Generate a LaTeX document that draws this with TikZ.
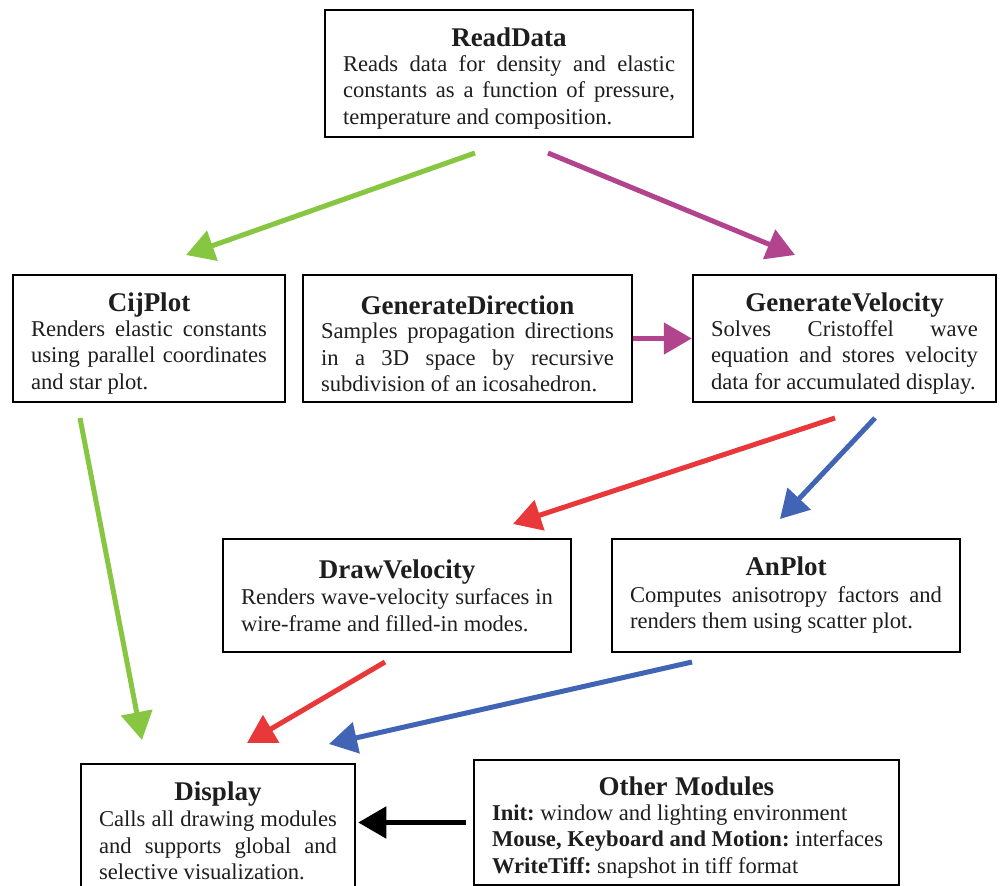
\documentclass[tikz,border=0pt]{standalone}
\usepackage{fontspec}
\setmainfont{Liberation Serif}
\usetikzlibrary{arrows.meta,calc}
\frenchspacing
\definecolor{agreen}{RGB}{134,198,64}
\definecolor{amag}{RGB}{178,68,142}
\definecolor{ared}{RGB}{232,56,58}
\definecolor{ablue}{RGB}{65,100,180}
\definecolor{txt}{RGB}{30,30,30}
\newcommand{\ttl}[1]{\makebox[\hsize]{\fontsize{27}{28}\selectfont\bfseries #1}}
\newcommand{\ttlb}[1]{\makebox[\hsize]{\rule{0pt}{29pt}\fontsize{27}{28}\selectfont\bfseries #1}}
\newcommand{\jln}[1]{\makebox[\hsize][s]{\spaceskip=0pt\xspaceskip=0pt\frenchspacing #1}}
\newcommand{\pln}[1]{\mbox{\spaceskip=0pt\xspaceskip=0pt\frenchspacing #1}}
\tikzset{
  modbox/.style={draw=black, line width=2.5pt, inner xsep=18pt, inner ysep=0pt,
    align=left, text=txt, font=\fontsize{22.6}{26.5}\selectfont},
  conn/.style={line width=5pt, -{Triangle[length=28pt,width=31pt]}},
}
\begin{document}
\begin{tikzpicture}[x=1pt,y=-1pt]
\useasboundingbox (0,0) rectangle (1005,886);
\fill[white] (0,0) rectangle (1005,886);

\node[modbox, text width=332pt, minimum width=368pt, minimum height=127pt] (rd) at (509,73.5)
  {\ttlb{ReadData}\\[-2pt] \jln{Reads data for density and elastic}\\ \jln{constants as a function of pressure,}\\ \pln{temperature and composition.}};

\node[modbox, text width=236pt, minimum width=272pt, minimum height=127pt] (cij) at (149,338.5)
  {\ttlb{CijPlot}\\[-2pt] \jln{Renders elastic constants}\\ \jln{using parallel coordinates}\\ \pln{and star plot.}};

\node[modbox, text width=293pt, minimum width=329pt, minimum height=127pt] (gd) at (467.5,338.5)
  {\ttlb{GenerateDirection}\\[-2pt] \jln{Samples propagation directions}\\ \jln{in a 3D space by recursive}\\ \pln{subdivision of an icosahedron.}};

\node[modbox, text width=267pt, minimum width=303pt, minimum height=127pt] (gv) at (844.5,338.5)
  {\ttlb{GenerateVelocity}\\[-2pt] \jln{Solves Cristoffel wave}\\ \jln{equation and stores velocity}\\ \pln{data for accumulated display.}};

\node[modbox, text width=312pt, minimum width=348pt, minimum height=113pt] (dv) at (397,595.5)
  {\ttl{DrawVelocity}\\ \jln{Renders wave-velocity surfaces in}\\ \pln{wire-frame and filled-in modes.}};

\node[modbox, text width=312pt, minimum width=348pt, minimum height=113pt] (ap) at (786,595.5)
  {\ttl{AnPlot}\\ \jln{Computes anisotropy factors and}\\ \pln{renders them using scatter plot.}};

\node[modbox, text width=238pt, minimum width=274pt, minimum height=134pt] (disp) at (218,831)
  {\ttl{Display}\\ \jln{Calls all drawing modules}\\ \jln{and supports global and}\\ \pln{selective visualization.}};

\node[modbox, text width=389pt, minimum width=425pt, minimum height=125pt] (om) at (686.5,822.5)
  {\ttlb{Other Modules}\\[-2pt] \pln{\textbf{Init:} window and lighting environment}\\ \pln{\textbf{Mouse, Keyboard and Motion:} interfaces}\\ \pln{\textbf{WriteTiff:} snapshot in tiff format}};

% connector end points
\coordinate (g1s) at (475,153);
\coordinate (g1e) at (186,255);
\coordinate (m1s) at (548,153);
\coordinate (m1e) at (795,255);
\coordinate (g2s) at (80,418);
\coordinate (g2e) at (142,740);
\coordinate (r1s) at (835,418);
\coordinate (r1e) at (513,524);
\coordinate (b1s) at (875,418);
\coordinate (b1e) at (780,519);
\coordinate (r2s) at (385,662);
\coordinate (r2e) at (247,743);
\coordinate (b2s) at (692,662);
\coordinate (b2e) at (329,744);

\draw[conn, agreen] (g1s) -- (g1e);
\draw[conn, amag] (m1s) -- (m1e);
\draw[conn, amag] (gd.east) -- (gv.west);
\draw[conn, agreen] (g2s) -- (g2e);
\draw[conn, ared] (r1s) -- (r1e);
\draw[conn, ablue] (b1s) -- (b1e);
\draw[conn, ared] (r2s) -- (r2e);
\draw[conn, ablue] (b2s) -- (b2e);
\draw[conn, black, shorten <=7pt, shorten >=2pt] (om.west) -- (om.west -| disp.east);
\end{tikzpicture}
\end{document}
